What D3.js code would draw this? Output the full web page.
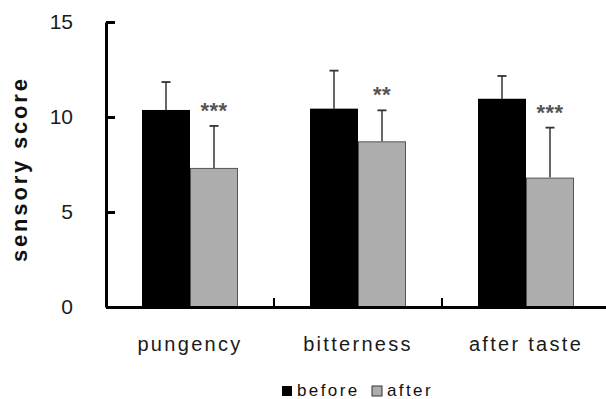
<!DOCTYPE html>
<html>
<head>
<meta charset="utf-8">
<script src="https://cdn.jsdelivr.net/npm/d3@7"></script>
<style>
  html, body { margin: 0; padding: 0; background: #ffffff; }
  svg { display: block; }
  text { font-family: "Liberation Sans", Arial, sans-serif; }
</style>
</head>
<body>
<div id="chart"></div>
<script>
// ---- data ----
const categories = ["pungency", "bitterness", "after taste"];
const seriesNames = ["before", "after"];
const beforeMeans = [10.37, 10.44, 10.96];
const beforeSD = [1.47, 2.0, 1.2];
const afterMeans = [7.32, 8.72, 6.81];
const afterSD = [2.21, 1.63, 2.63];
const significance = ["***", "**", "***"];
const yTicks = [0, 5, 10, 15];

const W = 606, H = 399;
const margin = { left: 106, right: -4, top: 22, bottom: 92 };

const svg = d3.select("#chart").append("svg")
  .attr("width", W).attr("height", H);

const x0 = d3.scaleBand()
  .domain(categories)
  .range([margin.left, W - margin.right])
  .paddingInner(0).paddingOuter(0);

const x1 = d3.scaleBand()
  .domain(seriesNames)
  .range([0, x0.bandwidth()])
  .paddingInner(0)
  .paddingOuter(0.75);

const y = d3.scaleLinear()
  .domain([0, 15])
  .range([H - margin.bottom, margin.top]);

const color = d3.scaleOrdinal().domain(seriesNames).range(["#000000", "#adadad"]);
const stroke = d3.scaleOrdinal().domain(seriesNames).range(["#000000", "#555555"]);

const rows = categories.map((c, i) => ({
  cat: c,
  vals: [
    { s: "before", v: beforeMeans[i], sd: beforeSD[i] },
    { s: "after", v: afterMeans[i], sd: afterSD[i] }
  ],
  sig: significance[i]
}));

const groups = svg.selectAll("g.grp").data(rows).join("g")
  .attr("class", "grp")
  .attr("transform", d => `translate(${x0(d.cat)},0)`);

// error bars
groups.selectAll("g.err").data(d => d.vals).join("g")
  .attr("class", "err")
  .each(function(d) {
    const g = d3.select(this);
    const cx = x1(d.s) + x1.bandwidth() / 2;
    g.append("line")
      .attr("x1", cx).attr("x2", cx)
      .attr("y1", y(d.v)).attr("y2", y(d.v + d.sd))
      .attr("stroke", "#333").attr("stroke-width", 1.5);
    g.append("line")
      .attr("x1", cx - 4.5).attr("x2", cx + 4.5)
      .attr("y1", y(d.v + d.sd)).attr("y2", y(d.v + d.sd))
      .attr("stroke", "#333").attr("stroke-width", 1.8);
  });

// bars
groups.selectAll("rect").data(d => d.vals).join("rect")
  .attr("x", d => x1(d.s) + (d.s === "after" ? 0.5 : 0))
  .attr("y", d => y(d.v) + (d.s === "after" ? 0.5 : 0))
  .attr("width", d => x1.bandwidth() - (d.s === "after" ? 1 : 0))
  .attr("height", d => y(0) - y(d.v) - (d.s === "after" ? 0.5 : 0))
  .attr("fill", d => color(d.s))
  .attr("stroke", d => d.s === "after" ? stroke(d.s) : "none")
  .attr("stroke-width", 1);

// significance stars
groups.append("text")
  .attr("x", x1("after") + x1.bandwidth() / 2)
  .attr("y", d => y(d.vals[1].v + d.vals[1].sd) - 8)
  .attr("text-anchor", "middle")
  .attr("font-size", 22)
  .attr("font-weight", "bold")
  .attr("letter-spacing", 0.5)
  .attr("fill", "#555")
  .text(d => d.sig);

// y axis
const yAxis = d3.axisLeft(y)
  .tickValues(yTicks)
  .tickSizeInner(-9)
  .tickSizeOuter(0)
  .tickPadding(33)
  .tickFormat(d3.format("d"));

const gy = svg.append("g")
  .attr("transform", `translate(${margin.left},0)`)
  .call(yAxis);
gy.select(".domain").attr("stroke", "#000").attr("stroke-width", 3);
gy.selectAll(".tick line").attr("stroke", "#000").attr("stroke-width", 3);
gy.selectAll(".tick text")
  .attr("font-size", 21)
  .attr("font-family", "Liberation Sans, Arial, sans-serif")
  .attr("fill", "#1a1a1a");

// x axis
const xAxis = d3.axisBottom(x0).tickSize(0).tickPadding(30);
const gx = svg.append("g")
  .attr("transform", `translate(0,${y(0)})`)
  .call(xAxis);
gx.select(".domain").attr("stroke", "#000").attr("stroke-width", 3);
gx.selectAll(".tick text")
  .attr("font-size", 20)
  .attr("font-family", "Liberation Sans, Arial, sans-serif")
  .attr("letter-spacing", 2.3)
  .attr("fill", "#1a1a1a");

// category boundary ticks (pointing up)
gx.selectAll("line.bound").data(categories.slice(1)).join("line")
  .attr("class", "bound")
  .attr("x1", d => x0(d)).attr("x2", d => x0(d))
  .attr("y1", 0).attr("y2", -9)
  .attr("stroke", "#000").attr("stroke-width", 2);

// y label
svg.append("text")
  .attr("transform", `translate(27,${(y(0) + y(15)) / 2 + 6}) rotate(-90)`)
  .attr("text-anchor", "middle")
  .attr("font-size", 22)
  .attr("font-weight", "bold")
  .attr("textLength", 183)
  .attr("lengthAdjust", "spacing")
  .attr("fill", "#111")
  .text("sensory score");

// legend
const legend = svg.append("g").attr("transform", "translate(282,384)");
const legItems = legend.selectAll("g").data(seriesNames).join("g")
  .attr("transform", (d, i) => `translate(${i * 90},0)`);
legItems.append("rect")
  .attr("x", 0).attr("y", 2)
  .attr("width", 10).attr("height", 10)
  .attr("fill", d => color(d))
  .attr("stroke", d => d === "after" ? "#333" : "none")
  .attr("stroke-width", 1);
legItems.append("text")
  .attr("x", 15).attr("y", 12)
  .attr("font-size", 17)
  .attr("letter-spacing", 2.4)
  .attr("fill", "#111")
  .text(d => d);
</script>
</body>
</html>
